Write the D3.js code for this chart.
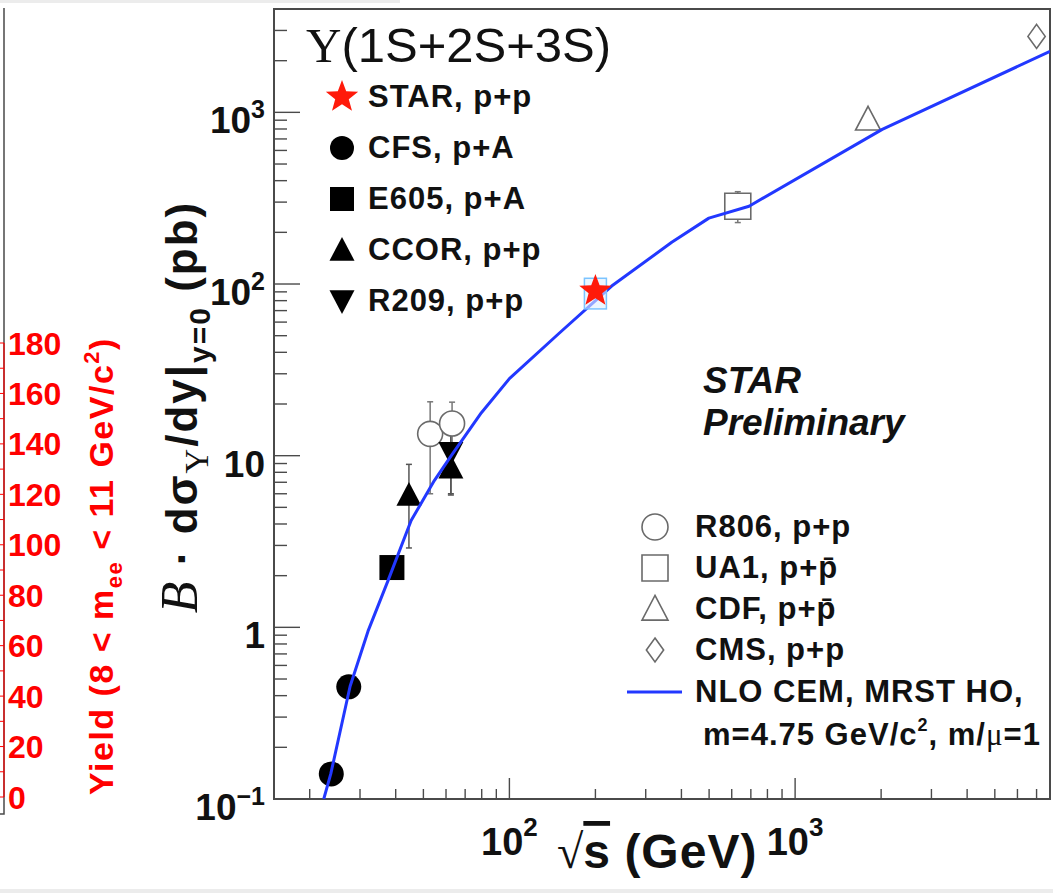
<!DOCTYPE html>
<html><head><meta charset="utf-8">
<script src="https://cdn.jsdelivr.net/npm/d3@7"></script>
<style>
html,body{margin:0;padding:0;background:#fff;}
svg{display:block;}
text{font-family:"Liberation Sans",Arial,Helvetica,sans-serif;}
</style></head><body>
<svg id="c" width="1053" height="893"></svg>
<script>
// ---------------- data ----------------
const cfsX = [23.8, 27.4], cfsY = [0.14, 0.45];
const e605X = [38.8], e605Y = [2.23];
const ccorX = [44.5, 62.4], ccorY = [5.9, 8.5], ccorLo = [2.9, 5.9], ccorHi = [8.9, 14.0];
const r209X = [62.4], r209Y = [10.4], r209Lo = [6.0], r209Hi = [14.0];
const r806X = [52.8, 63.0], r806Y = [13.4, 15.4], r806Lo = [6.0, 10.0], r806Hi = [20.6, 20.5];
const starX = [200], starY = [91], starSysLo = [71.6], starSysHi = [108];
const ua1X = [630], ua1Y = [284], ua1Lo = [228], ua1Hi = [345];
const cdfX = [1800], cdfY = [910];
const cmsX = [7000], cmsY = [2770];
const nloX = [22.4, 23.7, 27.7, 32.0, 37.6, 45.3, 54.6, 62.6, 79.8, 100, 149, 228, 370, 499, 690, 2018, 7800];
const nloY = [0.1, 0.140, 0.454, 0.95, 1.87, 4.19, 7.16, 10.0, 17.8, 28.1, 51.5, 97.3, 175, 242, 284, 796, 2265];
const xTickMajor = [100, 1000], xTickLabelsExp = ["2", "3"];
const yTickMajor = [0.1, 1, 10, 100, 1000];
const yTickLabels = [["10", "-1"], ["1", ""], ["10", ""], ["10", "2"], ["10", "3"]];
const redTicks = d3.range(0, 181, 10);
const redLabels = d3.range(0, 181, 20);
const legendA = ["STAR, p+p", "CFS, p+A", "E605, p+A", "CCOR, p+p", "R209, p+p"];
const legendB = [["R806, p+p", false], ["UA1, p+", true], ["CDF, p+", true], ["CMS, p+p", false]];
const legendLine = ["NLO CEM, MRST HO,", "m=4.75 GeV/c"];

// ---------------- layout ----------------
const L = 274, T = 9, R = 1050, B = 799;
const x = d3.scaleLog().domain([15, 7800]).range([L, R]);
const y = d3.scaleLog().domain([0.1, 4000]).range([B, T]);
const yRed = d3.scaleLinear().domain([0, 180]).range([797, 343]);
const svg = d3.select('#c');
const SERIF = '"Liberation Serif","Times New Roman",serif';
const BLUE = '#2238ff', RED = '#ff1a0a', FRAME = '#4a4a4a', OPEN = '#6a6a6a';

// ---------------- symbols ----------------
const symCircle = {draw(c, s){ c.moveTo(s/2, 0); c.arc(0, 0, s/2, 0, 2*Math.PI); }};
const symSquare = {draw(c, s){ c.rect(-s/2, -s/2, s, s); }};
const symTriUp = {draw(c, s){ const h = s*0.95; c.moveTo(0, -h*0.55); c.lineTo(s/2, h*0.45); c.lineTo(-s/2, h*0.45); c.closePath(); }};
const symTriDown = {draw(c, s){ const h = s*0.95; c.moveTo(0, h*0.55); c.lineTo(s/2, -h*0.45); c.lineTo(-s/2, -h*0.45); c.closePath(); }};
const symDiamond = {draw(c, s){ const w = s*0.72; c.moveTo(0, -s/2); c.lineTo(w/2, 0); c.lineTo(0, s/2); c.lineTo(-w/2, 0); c.closePath(); }};
const symStar = {draw(c, s){ const Ro = s/2, ri = Ro*0.42; for (let i = 0; i < 10; i++){ const a = -Math.PI/2 + i*Math.PI/5, rr = i%2 ? ri : Ro; const px = rr*Math.cos(a), py = rr*Math.sin(a); if (i) c.lineTo(px, py); else c.moveTo(px, py);} c.closePath(); }};
const sym = (t, s) => d3.symbol().type(t).size(s)();

// ---------------- page decorations ----------------
svg.append('rect').attr('x', 0).attr('y', 0).attr('width', 400).attr('height', 3).attr('fill', '#ececec');
svg.append('rect').attr('x', 0).attr('y', 889).attr('width', 1053).attr('height', 4).attr('fill', '#ececec');

// ---------------- left (partial) panel with red axis ----------------
svg.append('path').attr('d', 'M4,8 L4,814 L-2,814').attr('fill', 'none').attr('stroke', FRAME).attr('stroke-width', 1.5);
svg.append('line').attr('x1', 4).attr('x2', 4).attr('y1', yRed(0)).attr('y2', yRed(180))
  .attr('stroke', '#ff0000').attr('stroke-width', 1.2);
svg.selectAll('.rt').data(redTicks).join('line').attr('class', 'rt')
  .attr('x1', 4).attr('x2', -4).attr('y1', d => yRed(d)).attr('y2', d => yRed(d))
  .attr('stroke', '#ff0000').attr('stroke-width', 1);
svg.selectAll('.rl').data(redLabels).join('text').attr('class', 'rl')
  .attr('x', 8).attr('y', d => yRed(d)).attr('dy', '0.36em')
  .attr('font-size', 32).attr('font-weight', 'bold').attr('fill', '#ff0000').text(d => d);
{
  const t = svg.append('text').attr('transform', 'translate(113,566) rotate(-90)')
    .attr('text-anchor', 'middle').attr('font-size', 34).attr('font-weight', 'bold').attr('fill', '#ff0000')
    .attr('letter-spacing', 1.5);
  t.append('tspan').text('Yield (8 < m');
  t.append('tspan').attr('font-size', 22).attr('dy', 9).text('ee');
  t.append('tspan').attr('dy', -9).text(' < 11 GeV/c');
  t.append('tspan').attr('font-size', 22).attr('dy', -14).text('2');
  t.append('tspan').attr('dy', 14).text(')');
}

// ---------------- main frame, ticks ----------------
svg.append('defs').append('clipPath').attr('id', 'clip')
  .append('rect').attr('x', L).attr('y', T).attr('width', R - L).attr('height', B - T);

const yTicks = [];
[0.1, 1, 10, 100, 1000].forEach(d => { for (let k = 1; k <= 9; k++){ const v = k*d; if (v <= 4000) yTicks.push({v, major: k === 1}); } });
svg.selectAll('.yt').data(yTicks).join('line').attr('class', 'yt')
  .attr('x1', L).attr('x2', d => L + (d.major ? 26 : 13))
  .attr('y1', d => y(d.v)).attr('y2', d => y(d.v)).attr('stroke', FRAME).attr('stroke-width', 1.4);

const xTicks = [];
[10, 100, 1000].forEach(d => { for (let k = 1; k <= 9; k++){ const v = k*d; if (v >= 15 && v <= 7800) xTicks.push({v, major: k === 1}); } });
svg.selectAll('.xt').data(xTicks).join('line').attr('class', 'xt')
  .attr('x1', d => x(d.v)).attr('x2', d => x(d.v))
  .attr('y1', B).attr('y2', d => B - (d.major ? 21 : 10)).attr('stroke', FRAME).attr('stroke-width', 1.4);

svg.append('rect').attr('x', L).attr('y', T).attr('width', R - L).attr('height', B - T)
  .attr('fill', 'none').attr('stroke', FRAME).attr('stroke-width', 2);

// y tick labels
yTickMajor.forEach((v, i) => {
  const t = svg.append('text').attr('x', 265).attr('y', y(v) + 21).attr('text-anchor', 'end')
    .attr('font-size', 37).attr('font-weight', 'bold').attr('fill', '#111');
  t.append('tspan').text(yTickLabels[i][0]);
  if (yTickLabels[i][1]) t.append('tspan').attr('font-size', 25).attr('dy', -15).text(yTickLabels[i][1] === '-1' ? '\u22121' : yTickLabels[i][1]);
});
// x tick labels
xTickMajor.forEach((v, i) => {
  const t = svg.append('text').attr('x', x(v)).attr('y', 855).attr('text-anchor', 'middle')
    .attr('font-size', 38).attr('font-weight', 'bold').attr('fill', '#111');
  t.append('tspan').text('10');
  t.append('tspan').attr('font-size', 26).attr('dy', -19).text(xTickLabelsExp[i]);
});

// axis titles
{
  const t = svg.append('text').attr('x', 557).attr('y', 868).attr('font-size', 48).attr('font-weight', 'bold').attr('fill', '#111');
  t.append('tspan').attr('font-family', SERIF).attr('font-weight', 'normal').attr('font-size', 48).text('\u221A');
  t.append('tspan').attr('style', 'text-decoration:overline').text('s');
  t.append('tspan').attr('letter-spacing', 1).text(' (GeV)');
}
{
  const t = svg.append('text').attr('transform', 'translate(197,407) rotate(-90)')
    .attr('text-anchor', 'middle').attr('font-size', 44).attr('font-weight', 'bold').attr('fill', '#111')
    .attr('letter-spacing', 2);
  t.append('tspan').attr('font-family', SERIF).attr('font-style', 'italic').attr('font-weight', 'normal').attr('font-size', 52).text('B');
  t.append('tspan').text(' \u00B7 d\u03C3');
  t.append('tspan').attr('font-family', SERIF).attr('font-weight', 'normal').attr('font-size', 34).attr('dy', 11).text('\u03A5');
  t.append('tspan').attr('dy', -11).text('/dy|');
  t.append('tspan').attr('font-size', 30).attr('dy', 13).text('y=0');
  t.append('tspan').attr('dy', -13).text(' (pb)');
}

// ---------------- data layer ----------------
const g = svg.append('g').attr('clip-path', 'url(#clip)');

function errBars(xs, lo, hi, color){
  xs.forEach((xv, i) => {
    g.append('line').attr('x1', x(xv)).attr('x2', x(xv)).attr('y1', y(lo[i])).attr('y2', y(hi[i]))
      .attr('stroke', color).attr('stroke-width', 1.5);
    [lo[i], hi[i]].forEach(v => g.append('line').attr('x1', x(xv) - 3).attr('x2', x(xv) + 3)
      .attr('y1', y(v)).attr('y2', y(v)).attr('stroke', color).attr('stroke-width', 1.5));
  });
}
errBars(ccorX, ccorLo, ccorHi, '#555');
errBars(r209X, r209Lo, r209Hi, '#555');
errBars(r806X, r806Lo, r806Hi, '#777');
errBars(ua1X, ua1Lo, ua1Hi, '#777');

function markers(xs, ys, type, size, fill, stroke){
  xs.forEach((xv, i) => g.append('path').attr('d', sym(type, size))
    .attr('transform', `translate(${x(xv)},${y(ys[i])})`)
    .attr('fill', fill).attr('stroke', stroke || 'none').attr('stroke-width', 1.6));
}
markers(r806X, r806Y, symCircle, 25, '#fff', OPEN);
markers(ua1X, ua1Y, symSquare, 26, '#fff', OPEN);
markers(cdfX, cdfY, symTriUp, 25, '#fff', OPEN);
markers(cmsX, cmsY, symDiamond, 24, '#fff', OPEN);
markers(cfsX, cfsY, symCircle, 25, '#000');
markers(e605X, e605Y, symSquare, 25, '#000');
markers(ccorX, ccorY, symTriUp, 25, '#000');
markers(r209X, r209Y, symTriDown, 25, '#000');

// NLO curve
const nlo = nloX.map((v, i) => [v, nloY[i]]);
g.append('path').datum(nlo)
  .attr('d', d3.line().x(d => x(d[0])).y(d => y(d[1])).curve(d3.curveLinear))
  .attr('fill', 'none').attr('stroke', BLUE).attr('stroke-width', 3).attr('stroke-linejoin', 'round');

// STAR systematic box + star
starX.forEach((xv, i) => {
  g.append('rect').attr('x', x(xv) - 11).attr('y', y(starSysHi[i])).attr('width', 22)
    .attr('height', y(starSysLo[i]) - y(starSysHi[i]))
    .attr('fill', '#dff0ff').attr('fill-opacity', 0.6).attr('stroke', '#7cc4ff').attr('stroke-width', 1.5);
});
markers(starX, starY, symStar, 34, RED);

// ---------------- legend A ----------------
svg.append('text').attr('x', 306).attr('y', 62).attr('font-size', 49).attr('fill', '#111')
  .call(t => { t.append('tspan').attr('font-family', SERIF).text('\u03A5'); t.append('tspan').text('(1S+2S+3S)'); });
const legATypes = [[symStar, 34, RED], [symCircle, 24, '#000'], [symSquare, 24, '#000'], [symTriUp, 25, '#000'], [symTriDown, 25, '#000']];
legendA.forEach((lab, i) => {
  const yy = 97 + i*51;
  svg.append('path').attr('d', sym(legATypes[i][0], legATypes[i][1]))
    .attr('transform', `translate(342,${yy})`).attr('fill', legATypes[i][2]);
  svg.append('text').attr('x', 368).attr('y', yy + 10).attr('font-size', 31).attr('font-weight', 'bold')
    .attr('letter-spacing', 1).attr('fill', '#111').text(lab);
});

// ---------------- legend B ----------------
const legBTypes = [[symCircle, 26], [symSquare, 26], [symTriUp, 26], [symDiamond, 24]];
legendB.forEach((e, i) => {
  const yy = 527 + i*41;
  svg.append('path').attr('d', sym(legBTypes[i][0], legBTypes[i][1]))
    .attr('transform', `translate(655,${yy})`).attr('fill', '#fff').attr('stroke', OPEN).attr('stroke-width', 1.6);
  const t = svg.append('text').attr('x', 695).attr('y', yy + 10).attr('font-size', 31).attr('font-weight', 'bold')
    .attr('letter-spacing', 1).attr('fill', '#111');
  t.append('tspan').text(e[0]);
  if (e[1]) t.append('tspan').text('p\u0304');
});
svg.append('line').attr('x1', 627).attr('x2', 682).attr('y1', 692).attr('y2', 692).attr('stroke', BLUE).attr('stroke-width', 3);
svg.append('text').attr('x', 695).attr('y', 702).attr('font-size', 31).attr('font-weight', 'bold')
  .attr('letter-spacing', 1).attr('fill', '#111').text(legendLine[0]);
{
  const t = svg.append('text').attr('x', 703).attr('y', 745).attr('font-size', 31).attr('font-weight', 'bold')
    .attr('letter-spacing', 1).attr('fill', '#111');
  t.append('tspan').text(legendLine[1]);
  t.append('tspan').attr('font-size', 18).attr('dy', -14).text('2');
  t.append('tspan').attr('dy', 14).text(', m/');
  t.append('tspan').attr('font-family', SERIF).attr('font-weight', 'normal').text('\u03BC');
  t.append('tspan').text('=1');
}

// ---------------- STAR Preliminary ----------------
svg.append('text').attr('x', 703).attr('y', 393).attr('font-size', 37).attr('font-weight', 'bold').attr('font-style', 'italic').attr('fill', '#111').text('STAR');
svg.append('text').attr('x', 703).attr('y', 435).attr('font-size', 37).attr('font-weight', 'bold').attr('font-style', 'italic').attr('fill', '#111').text('Preliminary');
</script>
</body></html>
